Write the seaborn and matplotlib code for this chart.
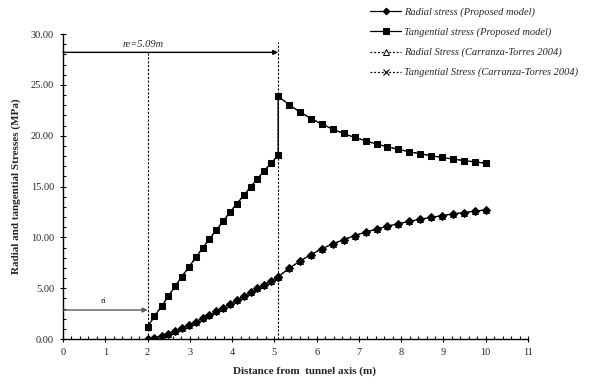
import matplotlib
matplotlib.use("Agg")
import matplotlib.pyplot as plt
import seaborn as sns
import pandas as pd
from matplotlib.ticker import MultipleLocator, FormatStrFormatter

# distance from tunnel axis (m): plastic zone 2.00 -> re, then elastic zone re -> 10
x_plastic = [2.00, 2.16, 2.33, 2.49, 2.65, 2.81, 2.98, 3.14, 3.30, 3.46,
             3.63, 3.79, 3.95, 4.11, 4.28, 4.44, 4.60, 4.76, 4.93, 5.09]
x_elastic = [5.09, 5.35, 5.61, 5.87, 6.12, 6.38, 6.64, 6.90, 7.16, 7.42,
             7.67, 7.93, 8.19, 8.45, 8.71, 8.97, 9.22, 9.48, 9.74, 10.00]

radial_model = [0.00, 0.13, 0.31, 0.53, 0.79, 1.07, 1.37, 1.69, 2.03, 2.37,
                2.73, 3.09, 3.46, 3.83, 4.21, 4.59, 4.97, 5.35, 5.73, 6.12,
                6.12, 6.96, 7.68, 8.31, 8.87, 9.35, 9.78, 10.17, 10.51, 10.82,
                11.09, 11.34, 11.57, 11.78, 11.97, 12.14, 12.30, 12.44, 12.58, 12.70]
tangential_model = [1.20, 2.22, 3.22, 4.21, 5.18, 6.14, 7.09, 8.02, 8.94, 9.84,
                    10.73, 11.61, 12.47, 13.32, 14.15, 14.97, 15.77, 16.56, 17.33, 18.10,
                    23.88, 23.04, 22.32, 21.69, 21.13, 20.65, 20.22, 19.83, 19.49, 19.18,
                    18.91, 18.66, 18.43, 18.22, 18.03, 17.86, 17.70, 17.56, 17.42, 17.30]
radial_ct = [0.00, 0.13, 0.31, 0.53, 0.79, 1.07, 1.37, 1.69, 2.03, 2.37,
             2.73, 3.09, 3.46, 3.83, 4.21, 4.59, 4.97, 5.35, 5.73, 6.12,
             6.12, 6.96, 7.68, 8.31, 8.87, 9.35, 9.78, 10.17, 10.51, 10.82,
             11.09, 11.34, 11.57, 11.78, 11.97, 12.14, 12.30, 12.44, 12.58, 12.70]
tangential_ct = [1.20, 2.22, 3.22, 4.21, 5.18, 6.14, 7.09, 8.02, 8.94, 9.84,
                 10.73, 11.61, 12.47, 13.32, 14.15, 14.97, 15.77, 16.56, 17.33, 18.10,
                 23.88, 23.04, 22.32, 21.69, 21.13, 20.65, 20.22, 19.83, 19.49, 19.18,
                 18.91, 18.66, 18.43, 18.22, 18.03, 17.86, 17.70, 17.56, 17.42, 17.30]

ri = 2.0
re = 5.09

df = pd.DataFrame({
    "distance": x_plastic + x_elastic,
    "radial_model": radial_model,
    "tangential_model": tangential_model,
    "radial_ct": radial_ct,
    "tangential_ct": tangential_ct,
})

sns.set_style("ticks")
plt.rcParams['font.family'] = ['Liberation Serif', 'DejaVu Serif']

fig = plt.figure(figsize=(6.02, 3.87), dpi=100)
ax = fig.add_axes([0.1047, 0.124, 0.7724, 0.788])

dotted = (0, (1.5, 1.5))
common = dict(data=df, x="distance", sort=False, estimator=None, ax=ax, color="black")
sns.lineplot(y="radial_ct", linestyle=dotted, linewidth=0.9, marker="^", markersize=5,
             markerfacecolor="white", markeredgecolor="black", markeredgewidth=0.7,
             label="Radial Stress (Carranza-Torres 2004)", **common)
sns.lineplot(y="tangential_ct", linestyle=dotted, linewidth=0.9, marker="x", markersize=5,
             markeredgecolor="black", markeredgewidth=0.8,
             label="Tangential Stress (Carranza-Torres 2004)", **common)
sns.lineplot(y="radial_model", linestyle="-", linewidth=0.9, marker="D", markersize=4,
             markeredgecolor="black", markerfacecolor="black",
             label="Radial stress (Proposed model)", **common)
sns.lineplot(y="tangential_model", linestyle="-", linewidth=0.9, marker="s", markersize=4.5,
             markeredgecolor="black", markerfacecolor="black",
             label="Tangential stress (Proposed model)", **common)

# zone boundaries
ax.plot([ri, ri], [0, 28.2], color="black", linestyle="--", dashes=(2, 1.5), linewidth=0.8)
ax.plot([re, re], [0, 29.2], color="black", linestyle="--", dashes=(2, 1.5), linewidth=0.8)
ax.annotate("", xy=(re, 28.2), xytext=(0, 28.2),
            arrowprops=dict(arrowstyle="-|>", color="black", lw=1.0, mutation_scale=7,
                            shrinkA=0, shrinkB=0))
ax.text(1.9, 28.5, "re=5.09m", style="italic", ha="center", va="bottom", fontsize=7.5)
ax.annotate("", xy=(ri, 2.85), xytext=(0, 2.85),
            arrowprops=dict(arrowstyle="-|>", color="0.35", lw=1.0, mutation_scale=7,
                            shrinkA=0, shrinkB=0))
ax.text(0.95, 3.3, "ri", ha="center", va="bottom", fontsize=6.5)

ax.set_xlim(0, 11)
ax.set_ylim(0, 30)
ax.set_xticks(range(0, 12))
ax.set_yticks([0, 5, 10, 15, 20, 25, 30])
ax.xaxis.set_minor_locator(MultipleLocator(0.2))
ax.yaxis.set_minor_locator(MultipleLocator(1))
ax.yaxis.set_major_formatter(FormatStrFormatter("%.2f"))
ax.tick_params(which="major", direction="inout", length=5, width=0.8, labelsize=7.5,
               color="black", pad=4)
ax.tick_params(which="minor", direction="in", length=2.5, width=0.8, color="black")
sns.despine(ax=ax)
for s in ["left", "bottom"]:
    ax.spines[s].set_linewidth(1.0)
    ax.spines[s].set_color("black")

ax.set_xlabel("Distance from  tunnel axis (m)", fontweight="bold", fontsize=8)
ax.xaxis.set_label_coords(0.52, -0.09)
ax.set_ylabel("Radial and tangential Stresses (MPa)", fontweight="bold", fontsize=8)
ax.yaxis.set_label_coords(-0.09, 0.5)

handles, labels = ax.get_legend_handles_labels()
ax.get_legend().remove()
order = [2, 3, 0, 1]
fig.legend([handles[i] for i in order], [labels[i] for i in order],
           loc="upper left", bbox_to_anchor=(0.615, 0.98), frameon=False,
           prop={"style": "italic", "size": 7.5}, handlelength=3.0, labelspacing=1.0,
           handletextpad=0.2, borderpad=0, borderaxespad=0, markerscale=0.85)

plt.savefig("out.png", dpi=100)
plt.close()
